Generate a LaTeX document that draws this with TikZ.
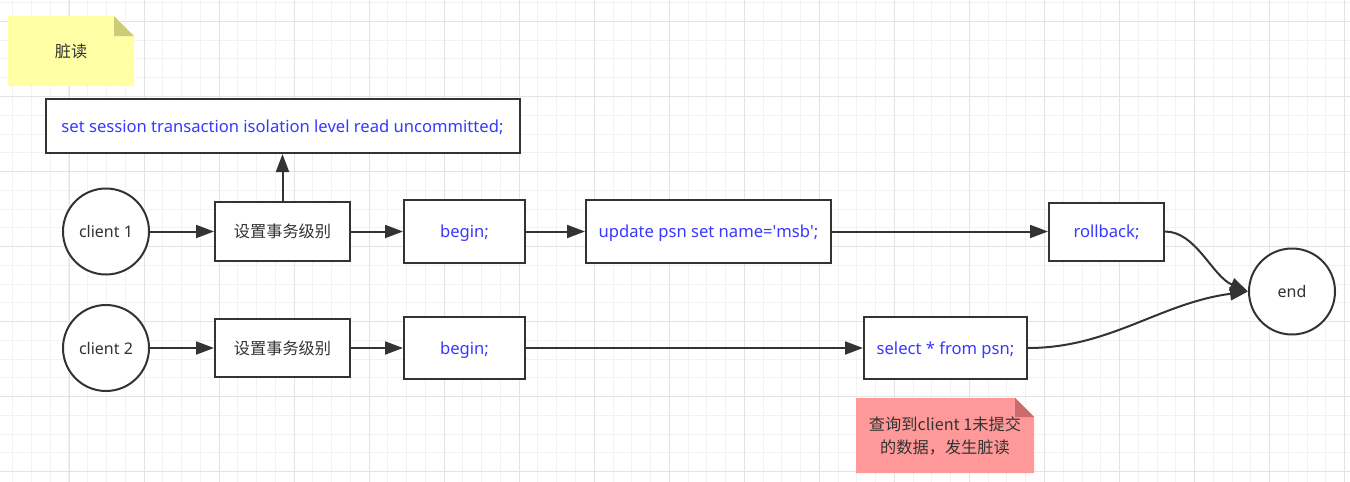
\documentclass[tikz,border=0pt]{standalone}
\usepackage{fontspec}
\setmainfont{Noto Sans}
\newfontfamily\cjk{Noto Sans CJK SC}
\usetikzlibrary{arrows.meta, positioning}
\definecolor{inkgray}{HTML}{333333}
\definecolor{sqlblue}{HTML}{3838FF}
\definecolor{gridminor}{HTML}{F2F2F2}
\definecolor{gridmajor}{HTML}{E3E3E3}
\definecolor{noteyellow}{HTML}{FFFFA6}
\definecolor{notefoldy}{HTML}{CCCC78}
\definecolor{notepink}{HTML}{FF9999}
\definecolor{notefoldp}{HTML}{CC6B6B}

\begin{document}
\begin{tikzpicture}[x=1pt, y=-1pt,
  every node/.style={align=center, font=\fontsize{16}{23}\selectfont, text=inkgray},
  zh/.style={font=\cjk\fontsize{16.2}{23}\selectfont},
  box/.style={draw=inkgray, line width=2pt, fill=white, inner sep=0pt},
  sqlbox/.style={box, text=sqlblue, text depth=0.5pt, font=\fontsize{16.6}{23}\selectfont},
  client/.style={circle, draw=inkgray, line width=2pt, fill=white, inner sep=0pt, minimum size=86pt},
  flow/.style={draw=inkgray, line width=2pt, -{Triangle[length=18pt, width=13pt]}}]
\useasboundingbox (0,0) rectangle (1350,482);
\fill[white] (0,0) rectangle (1350,482);
% background grid
\foreach \i in {0,...,71}
  \draw[gridminor, line width=1pt] ({12.7+18.76*\i},0) -- ++(0,482);
\foreach \i in {0,...,25}
  \draw[gridminor, line width=1pt] (0,{2.7+18.76*\i}) -- ++(1350,0);
\foreach \i in {0,...,17}
  \draw[gridmajor, line width=1pt] ({69+75.04*\i},0) -- ++(0,482);
\foreach \i in {0,...,6}
  \draw[gridmajor, line width=1pt] (0,{21.7+75.04*\i}) -- ++(1350,0);

% notes
\fill[noteyellow] (8,16) -- (114,16) -- (134,36) -- (134,86) -- (8,86) -- cycle;
\fill[notefoldy] (114,16) -- (134,36) -- (114,36) -- cycle;
\node[zh] (dirty) at (71,51) {脏读};
\fill[notepink] (856,398) -- (1015,398) -- (1034,417) -- (1034,473) -- (856,473) -- cycle;
\fill[notefoldp] (1015,398) -- (1034,417) -- (1015,417) -- cycle;
\node[zh] (found) at (945,436) {查询到client 1未提交\\的数据，发生脏读};

% client 1
\node[sqlbox, minimum width=474pt, minimum height=54pt] (level) at (282.5,126) {set session transaction isolation level read uncommitted;};
\node[client] (c1) at (106,231.5) {client 1};
\node[box, zh, minimum width=135pt, minimum height=59pt] (set1) at (282.5,231.5) {设置事务级别};
\node[sqlbox, minimum width=121pt, minimum height=63pt] (begin1) at (464.5,231.5) {begin;};
\node[sqlbox, minimum width=245pt, minimum height=63pt] (update) at (708.5,231.5) {update psn set name=\textquotesingle msb\textquotesingle;};
\node[sqlbox, minimum width=115pt, minimum height=58pt] (rollback) at (1106.5,231.5) {rollback;};

% client 2
\node[client] (c2) at (106,348) {client 2};
\node[box, zh, minimum width=135pt, minimum height=58pt] (set2) at (282.5,348) {设置事务级别};
\node[sqlbox, minimum width=121pt, minimum height=62pt] (begin2) at (464.5,348) {begin;};
\node[sqlbox, minimum width=163pt, minimum height=62pt] (select) at (945.5,348) {select * from psn;};

\node[client] (end) at (1292,291.5) {end};

\draw[flow] (c1) -- (set1);
\draw[flow] (set1) -- (level);
\draw[flow] (set1) -- (begin1);
\draw[flow] (begin1) -- (update);
\draw[flow] (update) -- (rollback);
\draw[flow] (c2) -- (set2);
\draw[flow] (set2) -- (begin2);
\draw[flow] (begin2) -- (select);
\draw[flow] (rollback.east) .. controls (1196,231.5) and (1212,276) .. (end.west);
\draw[flow] (select.east) .. controls (1110,348) and (1160,303) .. (end.west);
\end{tikzpicture}
\end{document}
